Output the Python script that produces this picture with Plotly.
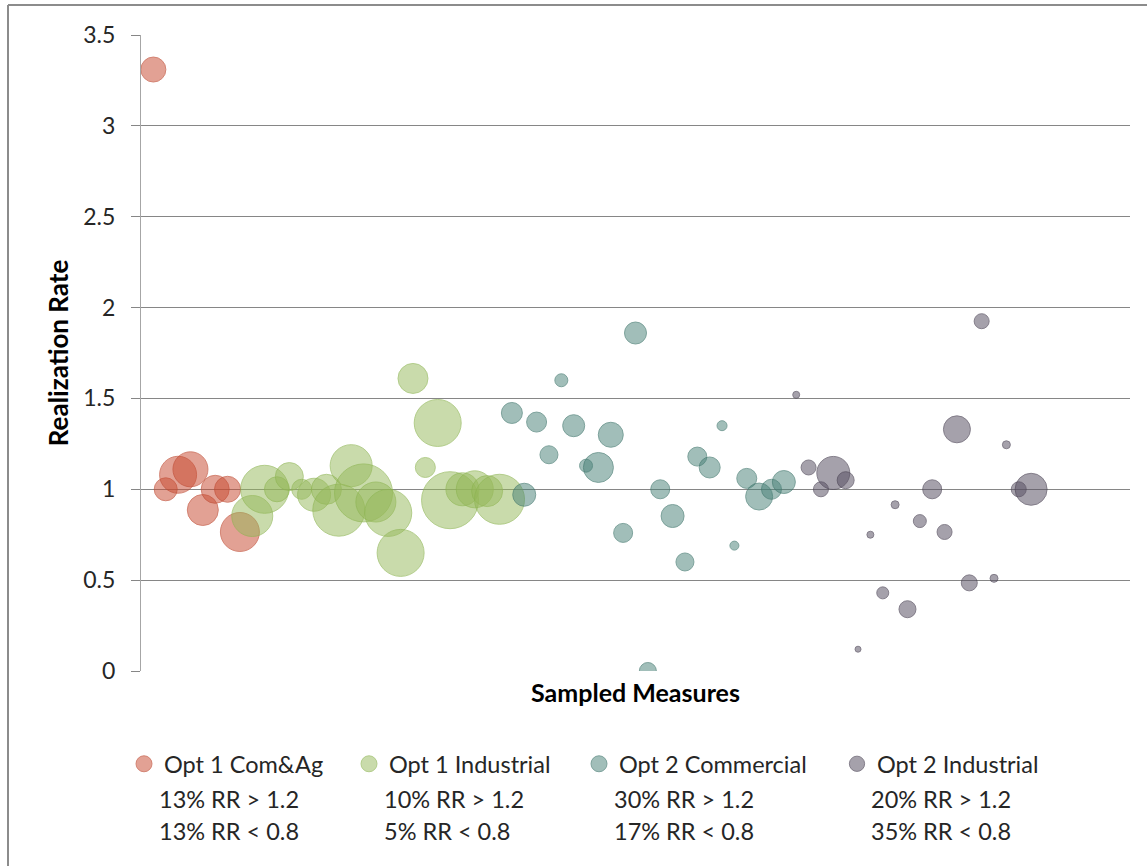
import plotly.graph_objects as go

# ---- data ----
series_names = ["Opt 1 Com&Ag", "Opt 1 Industrial", "Opt 2 Commercial", "Opt 2 Industrial"]
stat_hi = ["13% RR > 1.2", "10% RR > 1.2", "30% RR > 1.2", "20% RR > 1.2"]
stat_lo = ["13% RR < 0.8", "5% RR < 0.8", "17% RR < 0.8", "35% RR < 0.8"]

red_x = list(range(1, 9))
red_y = [3.31, 1.0, 1.08, 1.11, 0.886, 1.0, 1.0, 0.765]
red_s = [25, 23, 37, 35, 31, 28, 26, 39]

green_x = list(range(9, 30))
green_y = [0.853, 1.0, 1.0, 1.07, 1.0, 0.97, 1.0, 0.885, 1.13, 0.98, 0.93, 0.87, 0.65,
           1.61, 1.12, 1.365, 0.94, 1.0, 1.0, 0.99, 0.945]
green_s = [41, 48, 25, 28, 20, 33, 30, 52, 42, 58, 40, 47, 47, 30, 20, 47, 57, 33, 37, 31, 50]

teal_x = list(range(30, 53))
teal_y = [1.42, 0.97, 1.37, 1.19, 1.60, 1.35, 1.13, 1.12, 1.30, 0.76, 1.86, 0.0, 1.0, 0.853,
          0.60, 1.18, 1.12, 1.35, 0.69, 1.06, 0.96, 1.0, 1.04]
teal_s = [21, 23, 20, 18, 13, 22, 13, 30, 25, 19, 22, 17, 19, 23, 18, 19, 21, 10, 9, 20, 27, 20, 23]

dark_x = list(range(53, 73))
dark_y = [1.52, 1.12, 1.0, 1.09, 1.05, 0.12, 0.75, 0.43, 0.915, 0.34, 0.825, 1.0, 0.765,
          1.33, 0.485, 1.925, 0.51, 1.245, 1.0, 1.0]
dark_s = [7, 15, 15, 33, 17, 6, 7, 12, 8, 17, 13, 19, 15, 27, 16, 15, 8, 8, 15, 32]

y_ticks = [0, 0.5, 1, 1.5, 2, 2.5, 3, 3.5]

# ---- styling ----
W, H = 1147, 866
L, R, T, B = 141, 17, 35, 195
PW, PH = W - L - R, H - T - B
FONT = "Lato, Calibri, sans-serif"
TXT = 23.5

fills = ["rgba(200,75,50,0.74)", "rgba(150,185,90,0.72)", "rgba(70,128,118,0.72)", "rgba(88,80,98,0.76)"]
edges = ["rgba(190,70,45,0.9)", "rgba(140,180,80,0.9)", "rgba(60,115,105,0.9)", "rgba(70,62,80,0.9)"]
legend_w = [180, 185, 213, 180]

fig = go.Figure()
data = [(red_x, red_y, red_s), (green_x, green_y, green_s), (teal_x, teal_y, teal_s), (dark_x, dark_y, dark_s)]
for i, (xs, ys, ss) in enumerate(data):
    fig.add_trace(go.Scatter(
        x=xs, y=ys, mode="markers", name=series_names[i],
        marker=dict(size=ss, sizemode="diameter", sizeref=1, color=fills[i],
                    line=dict(color=edges[i], width=1)),
        legendwidth=legend_w[i],
        hoverinfo="x+y+name",
    ))

def px2x(px):
    return (px - L) / PW

def py2y(py):
    return (H - B - py) / PH

text_x = [157, 382, 612, 869]
for i in range(4):
    fig.add_annotation(x=px2x(text_x[i]), y=py2y(799), xref="paper", yref="paper",
                       text=stat_hi[i], showarrow=False, xanchor="left", yanchor="middle",
                       font=dict(family=FONT, size=TXT, color="#262626"))
    fig.add_annotation(x=px2x(text_x[i]), y=py2y(831), xref="paper", yref="paper",
                       text=stat_lo[i], showarrow=False, xanchor="left", yanchor="middle",
                       font=dict(family=FONT, size=TXT, color="#262626"))

# chart border (top and left edges visible)
fig.add_shape(type="line", xref="paper", yref="paper", x0=px2x(8), x1=px2x(W + 5),
              y0=py2y(5), y1=py2y(5), line=dict(color="#8c8c8c", width=2))
fig.add_shape(type="line", xref="paper", yref="paper", x0=px2x(8), x1=px2x(8),
              y0=py2y(5), y1=py2y(H + 5), line=dict(color="#8c8c8c", width=2))

fig.update_layout(
    width=W, height=H,
    margin=dict(l=L, r=R, t=T, b=B, autoexpand=False),
    paper_bgcolor="white", plot_bgcolor="white",
    font=dict(family=FONT, size=TXT, color="#262626"),
    showlegend=True,
    legend=dict(orientation="h", x=px2x(124), y=py2y(742), xanchor="left", yanchor="top",
                font=dict(family=FONT, size=TXT, color="#262626"),
                bgcolor="rgba(0,0,0,0)", traceorder="normal"),
    xaxis=dict(range=[0, 80], showticklabels=False, showgrid=False, zeroline=False,
               showline=False, ticks="",
               title=dict(text="<b>Sampled Measures</b>", standoff=13,
                          font=dict(family=FONT, size=25, color="#000000"))),
    yaxis=dict(range=[0, 3.5], tickvals=y_ticks, ticktext=[f"{v:g}" for v in y_ticks],
               showgrid=True, gridcolor="#868686", gridwidth=1, zeroline=False,
               showline=True, linecolor="#a6a6a6", linewidth=1,
               ticks="outside", ticklen=9, tickcolor="#868686", tickwidth=1,
               ticklabelstandoff=11,
               tickfont=dict(family=FONT, size=23, color="#262626"),
               title=dict(text="<b>Realization Rate</b>", standoff=7,
                          font=dict(family=FONT, size=26, color="#000000"))),
)

fig.write_html("out.html")
